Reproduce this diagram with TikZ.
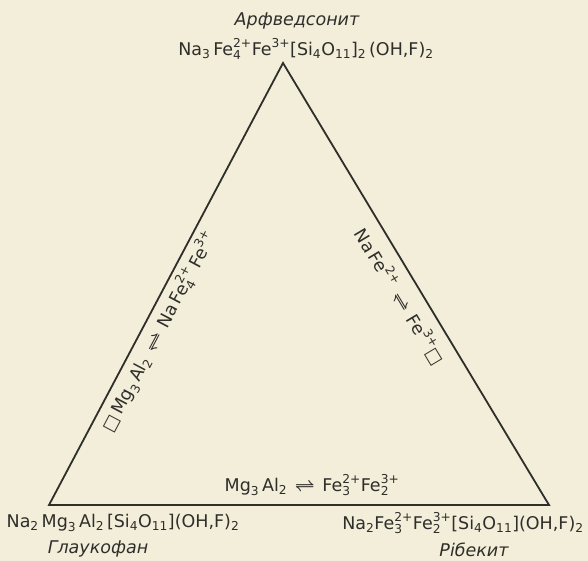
\documentclass[tikz,border=0pt]{standalone}
\usepackage{amsmath}
\usepackage{fontspec}
\setmainfont{DejaVu Sans}
\newfontfamily\namefont{DejaVu Sans}
\usetikzlibrary{calc}
\definecolor{paper}{HTML}{F3EEDA}
\definecolor{ink}{HTML}{2E2E2A}
\newcommand{\tx}[1]{\text{#1}}
\newcommand{\eqa}{\mathrel{\boldsymbol{\rightleftharpoons}}}
\tikzset{
  edge/.style={draw=ink, line width=1.8pt, line join=miter},
  formula/.style={inner sep=0pt, text=ink, font=\fontsize{17.5}{20}\selectfont},
  mineral/.style={inner sep=0pt, text=ink, font=\namefont\itshape\fontsize{17.5}{20}\selectfont},
}
\begin{document}
\begin{tikzpicture}[x=1pt, y=-1pt]
\fill[paper] (0,0) rectangle (588,561);
\useasboundingbox (0,0) rectangle (588,561);
\coordinate (A) at (283,63);
\coordinate (BL) at (49,505);
\coordinate (BR) at (549,505);
\draw[edge] (BL) -- (A) -- (BR) -- cycle;

\node[mineral] (arfn) at (297,21) {Арфведсонит};
\node[formula] (arf) at (306,49) {$\tx{Na}_{\tx{3}}\,\tx{Fe}^{\tx{2+}}_{\tx{4}}\tx{Fe}^{\tx{3+}}\tx{[Si}_{\tx{4}}\tx{O}_{\tx{11}}\tx{]}_{\tx{2}}\,\tx{(OH,F)}_{\tx{2}}$};

\node[formula] (gla) at (123,523) {$\tx{Na}_{\tx{2}}\,\tx{Mg}_{\tx{3}}\,\tx{Al}_{\tx{2}}\,\tx{[Si}_{\tx{4}}\tx{O}_{\tx{11}}\tx{](OH,F)}_{\tx{2}}$};
\node[mineral] (glan) at (98,549) {Глаукофан};

\node[formula] (rib) at (463,523) {$\tx{Na}_{\tx{2}}\tx{Fe}^{\tx{2+}}_{\tx{3}}\tx{Fe}^{\tx{3+}}_{\tx{2}}\tx{[Si}_{\tx{4}}\tx{O}_{\tx{11}}\tx{](OH,F)}_{\tx{2}}$};
\node[mineral] (ribn) at (474,550) {Рібекит};

\node[formula] (bot) at (312,485) {$\tx{Mg}_{\tx{3}}\,\tx{Al}_{\tx{2}}\,\eqa\,\tx{Fe}^{\tx{2+}}_{\tx{3}}\tx{Fe}^{\tx{3+}}_{\tx{2}}$};

\node[formula, rotate=62.1] (lft) at ($(BL)!0.41!(A)!16pt!-90:(A)$) {$\tx{□}\,\tx{Mg}_{\tx{3}}\,\tx{Al}_{\tx{2}}\,\eqa\,\tx{Na}\,\tx{Fe}^{\tx{2+}}_{\tx{4}}\,\tx{Fe}^{\tx{3+}}$};

\node[formula, rotate=-59] (rgt) at ($(A)!0.505!(BR)!20pt!-90:(BR)$) {$\tx{Na}\,\tx{Fe}^{\tx{2+}}\,\eqa\,\tx{Fe}^{\tx{3+}}\tx{□}$};
\end{tikzpicture}
\end{document}
